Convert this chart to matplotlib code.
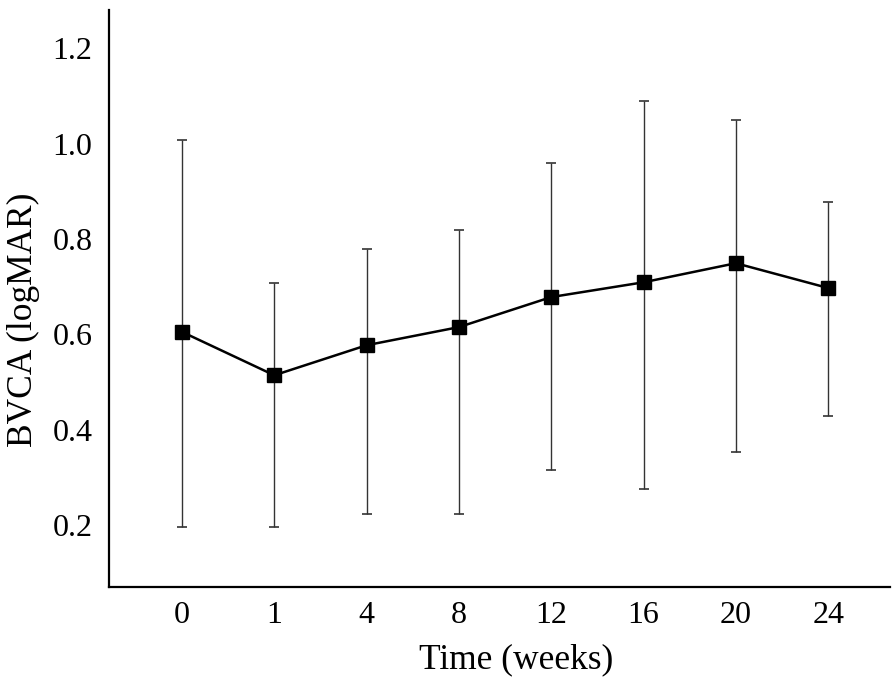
import matplotlib
matplotlib.use("Agg")
import matplotlib.pyplot as plt
import numpy as np

weeks = ["0", "1", "4", "8", "12", "16", "20", "24"]
mean_bcva = [0.605, 0.514, 0.577, 0.615, 0.678, 0.709, 0.749, 0.697]
upper = [1.007, 0.707, 0.779, 0.818, 0.959, 1.089, 1.049, 0.877]
lower = [0.196, 0.196, 0.223, 0.222, 0.315, 0.275, 0.353, 0.428]
yticks = [0.2, 0.4, 0.6, 0.8, 1.0, 1.2]

plt.rcParams['font.family'] = ['Liberation Serif', 'DejaVu Serif']

fig = plt.figure(figsize=(8.96, 6.87), dpi=100)
ax = fig.add_axes([0.1217, 0.1456, 0.8716, 0.8398])

x = np.arange(len(weeks))
m = np.array(mean_bcva)
yerr = np.vstack([m - np.array(lower), np.array(upper) - m])

ax.errorbar(x, m, yerr=yerr, fmt='none', ecolor='#333333', elinewidth=1.0,
            capsize=3.8, capthick=1.2, zorder=2)
ax.plot(x, m, color='black', linewidth=1.8, marker='s', markersize=10,
        markerfacecolor='black', markeredgecolor='black', zorder=3)

ax.set_xlim(-0.79, 7.67)
ax.set_ylim(0.07, 1.28)
ax.set_xticks(x)
ax.set_xticklabels(weeks)
ax.set_yticks(yticks)
ax.set_yticklabels([f"{v:.1f}" for v in yticks])
ax.tick_params(axis='both', length=0, labelsize=23, pad=10)
ax.tick_params(axis='y', pad=12)

for s in ['top', 'right']:
    ax.spines[s].set_visible(False)
for s in ['left', 'bottom']:
    ax.spines[s].set_linewidth(1.6)

ax.set_xlabel("Time (weeks)", fontsize=25.5)
ax.set_ylabel("BVCA (logMAR)", fontsize=25.5)
ax.xaxis.label.set_va('center')
ax.yaxis.label.set_va('center')
ax.xaxis.set_label_coords(0.521, -0.1265)
ax.yaxis.set_label_coords(-0.110, 0.463)

fig.savefig("out.png", dpi=100)
